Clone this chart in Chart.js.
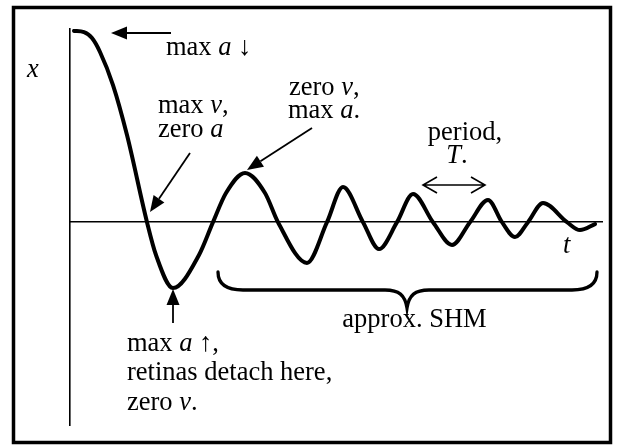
<!DOCTYPE html>
<html><head><meta charset="utf-8">
<script src="https://cdn.jsdelivr.net/npm/chart.js@4"></script>
<style>html,body{margin:0;padding:0;background:#fff}canvas{display:block}</style>
</head><body>
<canvas id="c" width="617" height="446"></canvas>
<script>
// time (arbitrary units) and displacement x (arbitrary units)
const times = [0.08,0.28,0.44,0.60,0.86,1.14,1.54,1.72,2.06,2.58,2.86,3.12,3.50,3.90,4.16,4.74,5.14,5.46,5.86,6.18,6.54,6.86,7.26,7.64,8.00,8.36,8.64,8.90,9.16,9.46,9.94,10.20,10.50];
const displacement = [0.990,0.984,0.953,0.881,0.710,0.451,0,-0.170,-0.341,-0.170,0,0.151,0.255,0.151,0,-0.211,0,0.182,0,-0.139,0,0.146,0,-0.118,0,0.115,0,-0.077,0,0.099,0,-0.041,-0.010];

const FONT = "26.5px 'Liberation Serif', 'Times New Roman', serif";
const IFONT = "italic 26.5px 'Liberation Serif', 'Times New Roman', serif";

// annotation texts: parts = [text, italic]
const notes = [
  {parts:[['max ',0],['a',1],[' \u2193',0]], x:166, y:55},
  {parts:[['x',1]], x:27, y:77},
  {parts:[['max ',0],['v',1],[',',0]], x:158, y:113},
  {parts:[['zero ',0],['a',1]], x:158, y:137},
  {parts:[['zero ',0],['v',1],[',',0]], x:289, y:95},
  {parts:[['max ',0],['a',1],['.',0]], x:288, y:118},
  {parts:[['period,',0]], x:465, y:140, center:true},
  {parts:[['T',1],['.',0]], x:457, y:163, center:true},
  {parts:[['t',1]], x:563, y:253},
  {parts:[['approx. SHM',0]], x:414.5, y:327, center:true},
  {parts:[['max ',0],['a',1],[' \u2191,',0]], x:127, y:351},
  {parts:[['retinas detach here,',0]], x:127, y:380},
  {parts:[['zero ',0],['v',1],['.',0]], x:127, y:410}
];

function drawRich(ctx, n){
  let w = 0;
  n.parts.forEach(p => { ctx.font = p[1] ? IFONT : FONT; w += ctx.measureText(p[0]).width; });
  let x = n.center ? n.x - w/2 : n.x;
  n.parts.forEach(p => { ctx.font = p[1] ? IFONT : FONT; ctx.fillText(p[0], x, n.y); x += ctx.measureText(p[0]).width; });
}
function arrow(ctx, x1, y1, x2, y2){
  const head = 16, hw = 6.5;
  const a = Math.atan2(y2-y1, x2-x1);
  const bx = x2 - head*Math.cos(a), by = y2 - head*Math.sin(a);
  ctx.lineWidth = 1.8;
  ctx.beginPath(); ctx.moveTo(x1,y1); ctx.lineTo(bx,by); ctx.stroke();
  ctx.beginPath(); ctx.moveTo(x2,y2);
  ctx.lineTo(bx + hw*Math.sin(a), by - hw*Math.cos(a));
  ctx.lineTo(bx - hw*Math.sin(a), by + hw*Math.cos(a));
  ctx.closePath(); ctx.fill();
}

const decor = {
  id: 'decor',
  afterDraw(chart){
    const ctx = chart.ctx;
    ctx.save();
    ctx.strokeStyle = '#000'; ctx.fillStyle = '#000';
    // frame
    ctx.lineWidth = 3.5;
    ctx.strokeRect(13.5, 7.5, 597, 435);
    // texts
    ctx.textBaseline = 'alphabetic'; ctx.textAlign = 'left';
    notes.forEach(n => drawRich(ctx, n));
    // arrows
    arrow(ctx, 171, 33, 111, 33);
    arrow(ctx, 190, 153, 150, 212);
    arrow(ctx, 312, 128, 247, 170);
    arrow(ctx, 173, 323, 173, 289);
    // double arrow (period)
    ctx.lineWidth = 1.6;
    ctx.beginPath();
    ctx.moveTo(423,185); ctx.lineTo(485,185);
    ctx.moveTo(437,177); ctx.lineTo(423,185); ctx.lineTo(437,193);
    ctx.moveTo(471,177); ctx.lineTo(485,185); ctx.lineTo(471,193);
    ctx.stroke();
    // brace
    ctx.lineWidth = 3.3; ctx.lineCap = 'round';
    ctx.beginPath();
    ctx.moveTo(218,272);
    ctx.bezierCurveTo(218,285, 227,290, 243,290);
    ctx.lineTo(385,290);
    ctx.bezierCurveTo(399,290, 405,295, 407,308);
    ctx.bezierCurveTo(409,295, 415,290, 429,290);
    ctx.lineTo(572,290);
    ctx.bezierCurveTo(588,290, 597,285, 597,272);
    ctx.stroke();
    ctx.restore();
  }
};

new Chart(document.getElementById('c'), {
  type: 'line',
  data: {
    datasets: [{
      data: times.map((t,i) => ({x: t, y: displacement[i]})),
      borderColor: '#000',
      borderWidth: 4,
      pointRadius: 0,
      cubicInterpolationMode: 'monotone',
      borderCapStyle: 'round',
      borderJoinStyle: 'round',
      fill: false
    }]
  },
  options: {
    responsive: false,
    animation: false,
    events: [],
    layout: {padding: {left: 70, top: 29, right: 15, bottom: 21}},
    plugins: {legend: {display: false}, tooltip: {enabled: false}},
    scales: {
      x: {type: 'linear', min: 0, max: 10.64, position: {y: 0},
          grid: {display: false, drawTicks: false}, ticks: {display: false},
          border: {display: true, color: '#000', width: 1.6}},
      y: {type: 'linear', min: -1.05, max: 1.0,
          grid: {display: false, drawTicks: false}, ticks: {display: false},
          border: {display: true, color: '#000', width: 1.6}}
    }
  },
  plugins: [decor]
});
</script>
</body></html>
